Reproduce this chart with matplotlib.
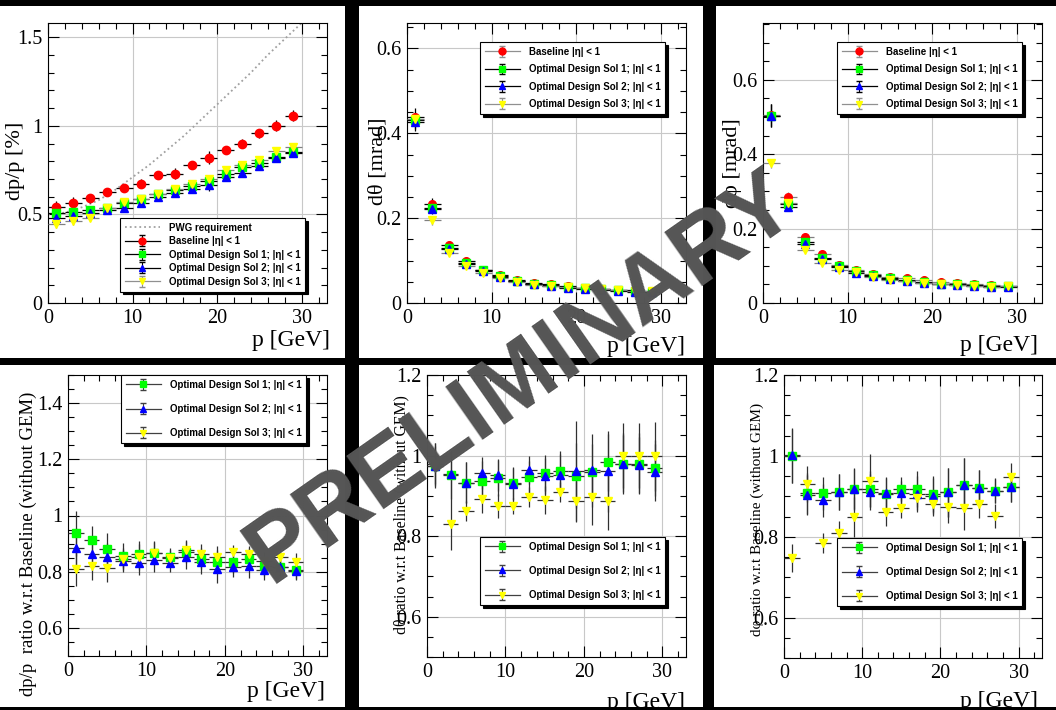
import numpy as np
import matplotlib.pyplot as plt
from matplotlib.patches import Rectangle
from matplotlib.lines import Line2D
from matplotlib.ticker import MultipleLocator, FuncFormatter
from matplotlib.legend_handler import HandlerErrorbar
from matplotlib.container import ErrorbarContainer

plt.rcParams['font.family'] = ['Liberation Serif', 'DejaVu Serif']

W, H = 1056, 710

# momentum bin centres [GeV], half width 1 GeV
p_bins = [1, 3, 5, 7, 9, 11, 13, 15, 17, 19, 21, 23, 25, 27, 29]
p_half = 1.0

# PWG requirement curve
pwg_p = [0, 2, 4, 6, 8, 10, 12, 14, 16, 18, 20, 22, 24, 26, 28, 30]
pwg_dp = [0.50, 0.51, 0.54, 0.58, 0.64, 0.71, 0.78, 0.86, 0.94, 1.03, 1.12, 1.21, 1.30, 1.40, 1.49, 1.58]

# dp/p [%]
dp_base = [0.54, 0.566, 0.59, 0.626, 0.651, 0.674, 0.72, 0.73, 0.78, 0.82, 0.862, 0.90, 0.958, 1.0, 1.057]
dp_sol1 = [0.51, 0.513, 0.525, 0.538, 0.566, 0.585, 0.617, 0.638, 0.66, 0.69, 0.726, 0.768, 0.792, 0.825, 0.853]
dp_sol2 = [0.477, 0.489, 0.51, 0.525, 0.538, 0.566, 0.60, 0.623, 0.645, 0.664, 0.713, 0.736, 0.774, 0.817, 0.849]
dp_sol3 = [0.443, 0.462, 0.481, 0.538, 0.57, 0.589, 0.617, 0.642, 0.674, 0.70, 0.753, 0.78, 0.806, 0.858, 0.88]
dp_base_err = [0.035, 0.03, 0.025, 0.02, 0.02, 0.025, 0.015, 0.03, 0.02, 0.035, 0.02, 0.025, 0.025, 0.03, 0.03]
dp_sol1_err = [0.02, 0.02, 0.02, 0.02, 0.02, 0.02, 0.015, 0.02, 0.02, 0.025, 0.02, 0.02, 0.02, 0.02, 0.02]
dp_sol2_err = [0.025, 0.025, 0.02, 0.025, 0.02, 0.025, 0.02, 0.02, 0.025, 0.03, 0.02, 0.025, 0.025, 0.02, 0.025]
dp_sol3_err = [0.02, 0.02, 0.02, 0.02, 0.02, 0.02, 0.015, 0.02, 0.02, 0.02, 0.02, 0.02, 0.02, 0.02, 0.02]

# dtheta [mrad]
dth_base = [0.439, 0.234, 0.136, 0.099, 0.078, 0.065, 0.055, 0.048, 0.044, 0.039, 0.036, 0.034, 0.031, 0.030, 0.028]
dth_sol1 = [0.431, 0.224, 0.130, 0.094, 0.077, 0.063, 0.053, 0.045, 0.042, 0.038, 0.035, 0.033, 0.031, 0.028, 0.027]
dth_sol2 = [0.426, 0.222, 0.128, 0.093, 0.075, 0.061, 0.052, 0.044, 0.040, 0.036, 0.034, 0.031, 0.029, 0.027, 0.025]
dth_sol3 = [0.434, 0.195, 0.118, 0.087, 0.071, 0.059, 0.049, 0.043, 0.041, 0.038, 0.035, 0.033, 0.031, 0.029, 0.028]
dth_base_err = [0.02, 0.013, 0.006, 0.004, 0.003, 0.003, 0.002, 0.002, 0.002, 0.002, 0.002, 0.002, 0.002, 0.002, 0.002]
dth_sol1_err = [0.02, 0.012, 0.005, 0.004, 0.003, 0.003, 0.002, 0.002, 0.002, 0.002, 0.002, 0.002, 0.002, 0.002, 0.002]
dth_sol2_err = [0.02, 0.012, 0.005, 0.004, 0.003, 0.003, 0.002, 0.002, 0.002, 0.002, 0.002, 0.002, 0.002, 0.002, 0.002]
dth_sol3_err = [0.015, 0.01, 0.005, 0.004, 0.003, 0.002, 0.002, 0.002, 0.002, 0.002, 0.002, 0.002, 0.002, 0.002, 0.002]

# dphi [mrad]
dph_base = [0.506, 0.286, 0.178, 0.131, 0.103, 0.090, 0.079, 0.070, 0.066, 0.061, 0.057, 0.054, 0.051, 0.049, 0.047]
dph_sol1 = [0.504, 0.265, 0.164, 0.121, 0.099, 0.086, 0.075, 0.067, 0.061, 0.057, 0.052, 0.050, 0.048, 0.047, 0.045]
dph_sol2 = [0.504, 0.259, 0.158, 0.119, 0.097, 0.081, 0.072, 0.065, 0.058, 0.054, 0.050, 0.048, 0.046, 0.044, 0.042]
dph_sol3 = [0.376, 0.268, 0.142, 0.108, 0.090, 0.084, 0.070, 0.063, 0.059, 0.054, 0.050, 0.048, 0.046, 0.043, 0.045]
dph_base_err = [0.03, 0.012, 0.006, 0.005, 0.004, 0.003, 0.003, 0.002, 0.002, 0.002, 0.002, 0.002, 0.002, 0.002, 0.002]
dph_sol1_err = [0.03, 0.01, 0.006, 0.004, 0.003, 0.003, 0.002, 0.002, 0.002, 0.002, 0.002, 0.002, 0.002, 0.002, 0.002]
dph_sol2_err = [0.03, 0.01, 0.006, 0.004, 0.003, 0.003, 0.002, 0.002, 0.002, 0.002, 0.002, 0.002, 0.002, 0.002, 0.002]
dph_sol3_err = [0.012, 0.01, 0.005, 0.004, 0.003, 0.003, 0.002, 0.002, 0.002, 0.002, 0.002, 0.002, 0.002, 0.002, 0.002]

# ratios w.r.t. baseline
rdp_sol1 = [0.936, 0.914, 0.882, 0.857, 0.864, 0.866, 0.852, 0.869, 0.846, 0.836, 0.834, 0.845, 0.819, 0.815, 0.807]
rdp_sol2 = [0.884, 0.864, 0.852, 0.839, 0.830, 0.840, 0.830, 0.851, 0.833, 0.809, 0.815, 0.819, 0.805, 0.816, 0.804]
rdp_sol3 = [0.809, 0.819, 0.813, 0.845, 0.852, 0.866, 0.848, 0.878, 0.864, 0.851, 0.869, 0.863, 0.839, 0.854, 0.836]
rdp_sol1_err = [0.08, 0.05, 0.054, 0.045, 0.046, 0.042, 0.032, 0.039, 0.038, 0.04, 0.04, 0.04, 0.035, 0.03, 0.033]
rdp_sol2_err = [0.07, 0.05, 0.05, 0.04, 0.04, 0.04, 0.03, 0.04, 0.04, 0.05, 0.035, 0.04, 0.035, 0.03, 0.035]
rdp_sol3_err = [0.06, 0.05, 0.05, 0.04, 0.045, 0.04, 0.03, 0.035, 0.035, 0.04, 0.025, 0.03, 0.03, 0.03, 0.03]

rth_sol1 = [0.975, 0.952, 0.933, 0.936, 0.944, 0.932, 0.947, 0.957, 0.962, 0.950, 0.958, 0.983, 0.980, 0.980, 0.969]
rth_sol2 = [0.975, 0.954, 0.933, 0.957, 0.952, 0.930, 0.965, 0.950, 0.953, 0.961, 0.963, 0.961, 0.980, 0.976, 0.958]
rth_sol3 = [0.980, 0.830, 0.862, 0.893, 0.874, 0.874, 0.897, 0.889, 0.910, 0.888, 0.897, 0.886, 1.000, 1.000, 0.998]
rth_sol1_err = [0.055, 0.06, 0.05, 0.05, 0.045, 0.04, 0.04, 0.045, 0.05, 0.08, 0.07, 0.07, 0.075, 0.075, 0.07]
rth_sol2_err = [0.05, 0.06, 0.05, 0.04, 0.04, 0.04, 0.035, 0.045, 0.05, 0.125, 0.09, 0.1, 0.07, 0.07, 0.07]
rth_sol3_err = [0.05, 0.065, 0.025, 0.035, 0.03, 0.02, 0.025, 0.035, 0.025, 0.05, 0.07, 0.07, 0.08, 0.08, 0.085]

rph_sol1 = [1.000, 0.907, 0.907, 0.910, 0.919, 0.918, 0.906, 0.918, 0.918, 0.906, 0.910, 0.929, 0.921, 0.914, 0.922]
rph_sol2 = [1.001, 0.903, 0.890, 0.911, 0.917, 0.910, 0.907, 0.909, 0.906, 0.900, 0.910, 0.929, 0.921, 0.913, 0.922]
rph_sol3 = [0.747, 0.931, 0.785, 0.810, 0.849, 0.939, 0.861, 0.871, 0.896, 0.881, 0.873, 0.871, 0.882, 0.851, 0.947]
rph_sol1_err = [0.067, 0.05, 0.04, 0.045, 0.05, 0.045, 0.04, 0.03, 0.045, 0.045, 0.06, 0.065, 0.045, 0.03, 0.035]
rph_sol2_err = [0.067, 0.05, 0.04, 0.045, 0.05, 0.045, 0.04, 0.03, 0.045, 0.045, 0.06, 0.065, 0.045, 0.03, 0.035]
rph_sol3_err = [0.035, 0.045, 0.025, 0.03, 0.05, 0.065, 0.035, 0.025, 0.03, 0.03, 0.04, 0.055, 0.035, 0.03, 0.035]

lbl_base = 'Baseline |\u03b7| < 1'
lbl_sol = ['Optimal Design Sol %d; |\u03b7| < 1' % i for i in (1, 2, 3)]

fig = plt.figure(figsize=(W / 100, H / 100), dpi=100, facecolor='black')


def px_rect(x0, y0, x1, y1):
    # pixel box (top-left origin) -> figure fraction [l, b, w, h]
    return [x0 / W, 1 - y1 / H, (x1 - x0) / W, (y1 - y0) / H]


# white pads
for box in [(0, 6, 345, 358), (359, 6, 703, 358), (716, 6, 1056, 358),
            (0, 365, 345, 707), (359, 365, 703, 707), (714, 365, 1056, 707)]:
    l, b, w, h = px_rect(*box)
    fig.add_artist(Rectangle((l, b), w, h, transform=fig.transFigure,
                             facecolor='white', edgecolor='none', zorder=-5))

fmt_g = FuncFormatter(lambda v, pos: '%g' % round(v, 6))


def style_axes(ax, ylim, ymajor, yminor):
    ax.set_xlim(0, 33)
    ax.set_ylim(*ylim)
    ax.xaxis.set_major_locator(MultipleLocator(10))
    ax.xaxis.set_minor_locator(MultipleLocator(2))
    ax.yaxis.set_major_locator(MultipleLocator(ymajor))
    ax.yaxis.set_minor_locator(MultipleLocator(yminor))
    ax.xaxis.set_major_formatter(fmt_g)
    ax.yaxis.set_major_formatter(fmt_g)
    ax.tick_params(which='both', direction='in', top=True, right=True,
                   labelsize=14.5, width=0.8, color='black')
    ax.tick_params(which='major', length=8, pad=4)
    ax.tick_params(which='minor', length=4)
    ax.grid(True, which='major', color='#c8c8c8', lw=0.8)
    ax.set_axisbelow(True)
    for s in ax.spines.values():
        s.set_linewidth(0.8)


def draw_series(ax, y, yerr, marker, color, ecolor, ms=5.5):
    ax.errorbar(p_bins, y, xerr=p_half, yerr=yerr, fmt='none',
                ecolor=ecolor, elinewidth=0.9, capsize=0, zorder=3)
    ax.plot(p_bins, y, ls='none', marker=marker, ms=ms, mfc=color, mec=color, zorder=4)


def proxy(ax, marker, color, lcolor, ms=5):
    return ax.errorbar([np.nan], [np.nan], yerr=[np.nan], fmt='-', marker=marker,
                       ms=ms, mfc=color, mec=color, color=lcolor, ecolor=lcolor,
                       lw=0.9, elinewidth=0.8, capsize=2.5)


def add_legend(ax, handles, labels, anchor, spacing):
    leg = ax.legend(handles, labels, loc='upper left', bbox_to_anchor=anchor,
                    borderaxespad=0, frameon=True, fancybox=False, edgecolor='black',
                    framealpha=1, shadow={'color': 'black', 'alpha': 1},
                    prop={'family': 'Liberation Sans', 'weight': 'bold', 'size': 7},
                    handlelength=3.6, handletextpad=0.9, borderpad=0.5,
                    labelspacing=spacing, numpoints=1,
                    handler_map={ErrorbarContainer: HandlerErrorbar(yerr_size=0.55)})
    leg.get_frame().set_linewidth(0.8)
    leg.set_zorder(6)


def add_titles(ax, ytitle, ypos, ysize, xpos):
    ax.text(ypos[0], ypos[1], ytitle, transform=ax.transAxes, rotation=90,
            ha='center', va='top', fontsize=ysize)
    ax.text(xpos[0], xpos[1], 'p [GeV]', transform=ax.transAxes,
            ha='right', va='center', fontsize=17)


marker_styles = [('o', 'red'), ('s', '#00ff00'), ('^', 'blue'), ('v', '#ffff00')]

# --- top left: dp/p ---
ax1 = fig.add_axes(px_rect(48, 23, 327, 303))
style_axes(ax1, (0, 1.58), 0.5, 0.1)
ax1.plot(pwg_p, pwg_dp, ls=':', color='#a0a0a0', lw=1.3, zorder=2)
for y, e, (mk, c), ec in zip([dp_base, dp_sol1, dp_sol2, dp_sol3],
                             [dp_base_err, dp_sol1_err, dp_sol2_err, dp_sol3_err],
                             marker_styles, ['k', 'k', 'k', '#808080']):
    draw_series(ax1, y, e, mk, c, ec, ms=6)
h = [Line2D([], [], ls=':', color='#a0a0a0', lw=1.3)]
h += [proxy(ax1, mk, c, lc) for (mk, c), lc in zip(marker_styles, ['k', 'k', 'k', '#909090'])]
add_legend(ax1, h, ['PWG requirement', lbl_base] + lbl_sol, (0.258, 0.304), 0.36)
add_titles(ax1, 'dp/p [%]', (-0.118, 0.646), 16, (1.011, -0.135))

# --- top middle: dtheta ---
ax2 = fig.add_axes(px_rect(407, 23, 686, 303))
style_axes(ax2, (0, 0.66), 0.2, 0.05)
for y, e, (mk, c), ec in zip([dth_base, dth_sol1, dth_sol2, dth_sol3],
                             [dth_base_err, dth_sol1_err, dth_sol2_err, dth_sol3_err],
                             marker_styles, ['k', 'k', 'k', '#808080']):
    draw_series(ax2, y, e, mk, c, ec)
h = [proxy(ax2, mk, c, lc) for (mk, c), lc in zip(marker_styles, ['#909090', 'k', 'k', '#909090'])]
add_legend(ax2, h, [lbl_base] + lbl_sol, (0.262, 0.932), 0.76)
add_titles(ax2, 'd\u03b8 [mrad]', (-0.104, 0.664), 16, (0.996, -0.157))

# --- top right: dphi ---
ax3 = fig.add_axes(px_rect(763, 23, 1042, 303))
style_axes(ax3, (0, 0.753), 0.2, 0.05)
for y, e, (mk, c), ec in zip([dph_base, dph_sol1, dph_sol2, dph_sol3],
                             [dph_base_err, dph_sol1_err, dph_sol2_err, dph_sol3_err],
                             marker_styles, ['#808080', 'k', 'k', '#808080']):
    draw_series(ax3, y, e, mk, c, ec)
h = [proxy(ax3, mk, c, lc) for (mk, c), lc in zip(marker_styles, ['#909090', 'k', 'k', '#909090'])]
add_legend(ax3, h, [lbl_base] + lbl_sol, (0.265, 0.932), 0.76)
add_titles(ax3, 'd\u03c6 [mrad]', (-0.108, 0.661), 16, (0.986, -0.15))

# --- bottom row: ratios ---
ratio_panels = [
    ((68, 375, 327, 656), (0.5, 1.5), [rdp_sol1, rdp_sol2, rdp_sol3],
     [rdp_sol1_err, rdp_sol2_err, rdp_sol3_err], (0.205, 1.0),
     'dp/p  ratio w.r.t Baseline (without GEM)', (-0.154, 0.94), 13.5, (0.992, -0.125)),
    ((427, 375, 686, 657), (0.5, 1.2), [rth_sol1, rth_sol2, rth_sol3],
     [rth_sol1_err, rth_sol2_err, rth_sol3_err], (0.205, 0.426),
     'd\u03b8 ratio w.r.t Baseline (without GEM)', (-0.097, 0.93), 11.3, (0.996, -0.16)),
    ((784, 375, 1042, 658), (0.5, 1.2), [rph_sol1, rph_sol2, rph_sol3],
     [rph_sol1_err, rph_sol2_err, rph_sol3_err], (0.205, 0.424),
     'd\u03c6 ratio w.r.t Baseline (without GEM)', (-0.105, 0.90), 11, (0.984, -0.155)),
]
for box, ylim, ys, es, anchor, ytitle, ypos, ysize, xpos in ratio_panels:
    ax = fig.add_axes(px_rect(*box))
    style_axes(ax, ylim, 0.2, 0.05)
    for y, e, (mk, c), ec in zip(ys, es, marker_styles[1:], ['#303030', '#303030', '#303030']):
        draw_series(ax, y, e, mk, c, ec)
    h = [proxy(ax, mk, c, lc) for (mk, c), lc in zip(marker_styles[1:], ['#404040', '#404040', '#404040'])]
    add_legend(ax, h, lbl_sol, anchor, 1.45)
    add_titles(ax, ytitle, ypos, ysize, xpos)

# black canvas borders drawn over any spill-over
for box in [(0, 0, 1056, 6), (0, 358, 1056, 365), (0, 707, 1056, 710),
            (345, 0, 359, 710), (703, 0, 716, 358), (703, 358, 714, 710)]:
    l, b, w, h_ = px_rect(*box)
    fig.add_artist(Rectangle((l, b), w, h_, transform=fig.transFigure,
                             facecolor='black', edgecolor='none', zorder=5))

fig.text(522 / W, 1 - 378 / H, 'PRELIMINARY', rotation=35, rotation_mode='anchor',
         ha='center', va='center', fontsize=68, fontweight='bold',
         family='Liberation Sans', color='#555555', zorder=10)

fig.savefig('out.png', dpi=100, facecolor='black')
